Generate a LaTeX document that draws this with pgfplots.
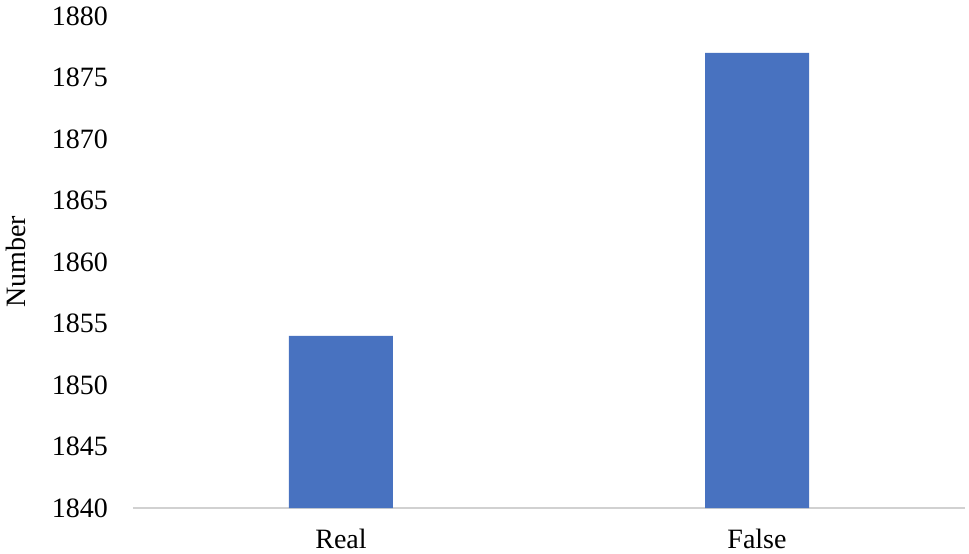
\documentclass[border=0pt]{standalone}
\usepackage{pgfplots}
\pgfplotsset{compat=1.18}
\usepackage{fontspec}
\setmainfont{Liberation Serif}
\definecolor{barblue}{RGB}{72,114,192}
\begin{document}
\begin{tikzpicture}
\path[use as bounding box] (-66.5pt,-22.5pt) rectangle (418pt,254pt);
\begin{axis}[
  scale only axis,
  width=416pt, height=246pt,
  ymin=1840, ymax=1880,
  ytick={1840,1845,...,1880},
  xmin=-0.5, xmax=1.5,
  xtick=data,
  xticklabels={Real,False},
  axis lines=left,
  axis line style={-},
  y axis line style={draw=none},
  x axis line style={draw=black!18, line width=0.6pt},
  major tick length=0pt,
  /pgf/number format/assume math mode=true,
  /pgf/number format/1000 sep={},
  tick label style={font=\fontsize{14}{16}\selectfont},
  yticklabel style={xshift=-9pt},
  xticklabel style={yshift=-7pt},
  ylabel={Number},
  label style={font=\fontsize{14}{16}\selectfont},
  ylabel style={yshift=6pt},
  clip=false,
]
\addplot[ybar, bar width=52pt, fill=barblue, draw=none] coordinates {(0,1854) (1,1877)};
\end{axis}
\end{tikzpicture}
\end{document}
